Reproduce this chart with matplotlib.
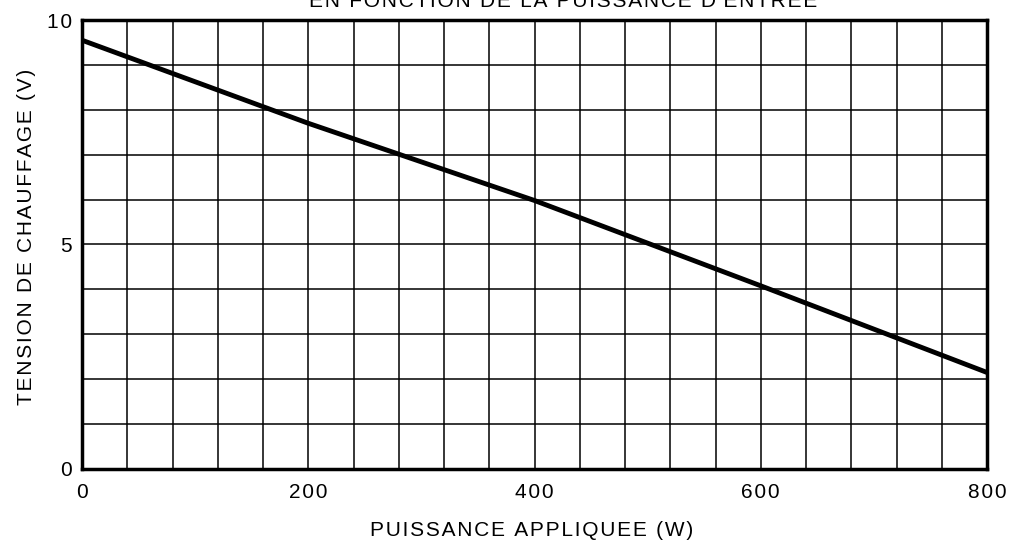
import matplotlib.pyplot as plt
import numpy as np

plt.rcParams['font.family'] = ['Liberation Sans', 'DejaVu Sans']

# Data
puissance = [0, 200, 400, 600, 800]          # W
tension = [9.55, 7.7, 5.98, 4.08, 2.15]      # V

x_ticks = [0, 200, 400, 600, 800]
y_ticks = [0, 5, 10]

W, H = 1009, 544


def spaced(s):
    # the original lettering is spread out a little
    return '\u200a'.join(s)


fig = plt.figure(figsize=(W / 100, H / 100), dpi=100)
ax = fig.add_axes([82 / W, 1 - 469 / H, (987 - 82) / W, (469 - 20) / H])

# grid
for gx in np.arange(40, 800, 40):
    ax.axvline(gx, color='black', linewidth=1.1, zorder=1)
for gy in np.arange(1, 10, 1):
    ax.axhline(gy, color='black', linewidth=1.1, zorder=1)

ax.plot(puissance, tension, color='black', linewidth=3.5, zorder=3,
        solid_capstyle='butt')

ax.set_xlim(0, 800)
ax.set_ylim(0, 10)
ax.set_xticks(x_ticks)
ax.set_xticklabels([spaced(str(v)) for v in x_ticks])
ax.set_yticks(y_ticks)
ax.set_yticklabels([spaced(str(v)) for v in y_ticks])
ax.tick_params(length=0, labelsize=15)
ax.tick_params(axis='x', pad=10)
ax.tick_params(axis='y', pad=7)
for s in ax.spines.values():
    s.set_linewidth(2.5)

fig.text(532 / W, 1 - 531 / H, spaced('PUISSANCE APPLIQUEE (W)'), fontsize=15,
         ha='center', va='center')
fig.text(27 / W, 1 - 237 / H, spaced('TENSION DE CHAUFFAGE (V)'), fontsize=15,
         ha='center', va='center', rotation=90)

fig.text(563 / W, 1 - 7 / H, spaced("EN FONCTION DE LA PUISSANCE D'ENTREE"),
         fontsize=15, ha='center', va='baseline')

fig.savefig('out.png', dpi=100)
